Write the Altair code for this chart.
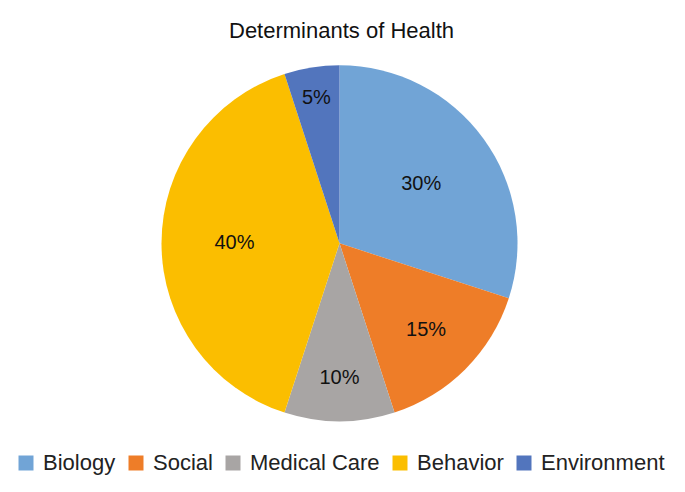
import altair as alt
import pandas as pd
import math

categories = ["Biology", "Social", "Medical Care", "Behavior", "Environment"]
shares = [30, 15, 10, 40, 5]
colors = ["#71A4D6", "#EE7D28", "#A8A5A4", "#FBBE00", "#5275BD"]
title_text = "Determinants of Health"

df = pd.DataFrame({"category": categories, "share": shares, "idx": list(range(len(categories)))})
df["label"] = [f"{s}%" for s in shares]

W, H = 669, 472
CX, CY, R = 331.5, 235.3, 178
FONT = "Liberation Sans"

theta_scale = alt.Scale(domain=[0, 100], range=[0, 2 * math.pi])

color = alt.Color(
    "category:N",
    scale=alt.Scale(domain=categories, range=colors),
    sort=categories,
    legend=alt.Legend(
        title=None,
        orient="none",
        legendX=7,
        legendY=444,
        direction="horizontal",
        symbolType="square",
        symbolSize=225,
        symbolStrokeWidth=0,
        labelFont=FONT,
        labelFontSize=22,
        labelColor="#222222",
        labelOffset=6,
        columnPadding=9,
        labelLimit=400,
    ),
)

base = alt.Chart(df).transform_window(
    cum="sum(share)", sort=[alt.SortField("idx")], frame=[None, 0]
).transform_calculate(
    start="datum.cum - datum.share",
    mid="datum.cum - datum.share / 2",
    lr="datum.share >= 30 ? 89 + 0.4 * datum.share : 160 - 2.5 * datum.share",
)

pie = base.mark_arc(outerRadius=R, stroke=None).encode(
    theta=alt.Theta("start:Q", scale=theta_scale),
    theta2="cum:Q",
    color=color,
    x=alt.value(CX),
    y=alt.value(CY),
)

labels = base.mark_text(font=FONT, fontSize=20, color="#111111").encode(
    theta=alt.Theta("mid:Q", scale=theta_scale),
    radius=alt.Radius("lr:Q", scale=None),
    text="label:N",
    x=alt.value(CX),
    y=alt.value(CY),
)

title = alt.Chart(pd.DataFrame({"t": [title_text]})).mark_text(
    font=FONT, fontSize=22, color="#111111", baseline="alphabetic"
).encode(text="t:N", x=alt.value(333.5), y=alt.value(30))

chart = alt.layer(pie, labels, title).properties(
    width=W, height=H, autosize=alt.AutoSizeParams(type="none"), padding=0
).configure_view(stroke=None)

chart.save("out.html", embed_options={"renderer": "svg", "actions": False})
